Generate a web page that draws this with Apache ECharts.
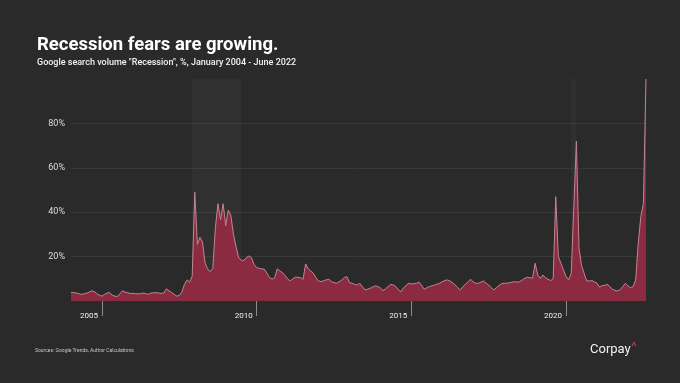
<!DOCTYPE html>
<html>
<head>
<meta charset="utf-8">
<script src="https://cdn.jsdelivr.net/npm/echarts@6/dist/echarts.min.js"></script>
<style>
html,body{margin:0;padding:0;background:#2a2a2a;}
#c{width:680px;height:383px;}
</style>
</head>
<body>
<div id="c"></div>
<script>
// Monthly categories Jan 2004 .. Aug 2022
const startYear = 2004, monthCount = 224;
const months = [];
for (let i = 0; i < monthCount; i++) {
  const y = startYear + Math.floor(i / 12), m = (i % 12) + 1;
  months.push(y + '-' + (m < 10 ? '0' + m : m));
}
// Google search volume "Recession", %
const searchVolume = [
  // 2004
  3.8,3.8,3.6,3.3,3.0,3.2,3.5,4.0,4.6,4.2,3.3,2.6,
  // 2005
  2.2,3.0,3.6,3.8,2.6,2.2,2.0,3.3,4.6,4.0,3.7,3.4,
  // 2006
  3.4,3.3,3.2,3.3,3.6,3.3,3.0,3.6,3.7,3.8,3.6,3.4,
  // 2007
  3.6,5.5,4.6,3.8,3.0,2.2,2.5,4.0,7.5,9.5,8.5,11.2,
  // 2008
  49.0,25.5,28.7,26.5,17.0,14.5,13.2,14.7,33.0,43.8,36.6,43.8,
  // 2009
  34.0,41.0,38.5,30.0,24.5,19.5,18.5,18.2,19.5,20.3,19.5,16.5,
  // 2010
  15.0,14.7,14.5,14.3,12.5,10.5,9.9,10.5,14.5,13.5,12.8,11.5,
  // 2011
  10.0,9.0,10.0,10.7,10.7,10.5,9.8,16.7,14.5,13.5,12.5,10.5,
  // 2012
  9.0,8.7,9.2,9.5,9.8,8.7,8.3,8.0,8.7,9.5,10.5,11.0,
  // 2013
  8.3,8.0,7.5,7.2,8.0,6.5,5.0,5.3,5.7,6.3,6.8,6.5,
  // 2014
  5.8,4.7,5.5,6.5,7.5,7.2,6.5,5.0,4.2,6.0,7.0,8.0,
  // 2015
  7.7,7.8,8.0,8.5,7.0,5.3,6.0,6.5,6.8,7.2,7.6,8.0,
  // 2016
  8.7,9.2,9.5,9.0,8.2,7.2,6.0,5.0,6.5,7.5,8.7,9.8,
  // 2017
  8.5,8.0,8.0,8.5,9.0,8.0,7.2,6.0,5.0,6.0,7.0,7.8,
  // 2018
  8.0,8.0,8.2,8.5,8.7,8.5,8.7,9.5,10.2,10.7,10.5,10.2,
  // 2019
  17.0,11.7,10.2,11.7,10.5,9.8,9.2,10.0,47.0,20.0,17.0,14.0,
  // 2020
  11.0,9.5,12.5,42.0,72.0,24.0,16.0,12.5,9.0,9.0,9.2,8.6,
  // 2021
  8.0,6.2,7.0,7.0,7.5,6.5,5.2,4.8,4.5,5.2,6.5,8.0,
  // 2022
  6.8,6.0,6.5,9.5,26.0,38.0,44.0,100.0
];
const recessionBands = [['2007-12', '2009-07'], ['2020-03', '2020-05']];
const yearTicks = ['2005', '2010', '2015', '2020'];
const yTicks = [20, 40, 60, 80];

const titleText = 'Recession fears are growing.';
const subtitleText = 'Google search volume "Recession", %, January 2004 - June 2022';
const sourceText = 'Sources: Google Trends, Author Calculations';

const chart = echarts.init(document.getElementById('c'), null, {renderer: 'canvas'});
const isYearTick = (idx, val) => yearTicks.indexOf(String(val).slice(0, 4)) >= 0 && String(val).slice(5) === '01';

chart.setOption({
  backgroundColor: '#2a2a2a',
  animation: false,
  grid: {left: 71, right: 34, top: 79, bottom: 82},
  xAxis: {
    type: 'category',
    data: months,
    boundaryGap: false,
    offset: 8,
    axisLine: {show: false},
    axisTick: {show: true, interval: isYearTick, length: 15, lineStyle: {color: '#8c8c8c', width: 1}},
    axisLabel: {
      interval: isYearTick,
      formatter: v => v.slice(0, 4),
      color: '#f0f0f0',
      fontFamily: 'Roboto',
      fontSize: 8,
      align: 'right',
      verticalAlign: 'middle',
      margin: 7,
      padding: [0, 4, 0, 0]
    },
    splitLine: {show: false}
  },
  yAxis: {
    type: 'value',
    min: 0,
    max: 100,
    interval: 20,
    axisLine: {show: false},
    axisTick: {show: false},
    axisLabel: {
      formatter: v => yTicks.indexOf(v) >= 0 ? v + '%' : '',
      color: '#dcdcdc',
      fontFamily: 'Roboto',
      fontSize: 9,
      margin: 6
    },
    splitLine: {lineStyle: {color: ['rgba(0,0,0,0)', '#383838', '#383838', '#383838', '#383838', 'rgba(0,0,0,0)'], width: 1}}
  },
  series: [
    {
      type: 'line',
      data: [],
      z: 1,
      silent: true,
      markArea: {
        silent: true,
        itemStyle: {color: 'rgba(255,255,255,0.03)'},
        data: recessionBands.map(b => [{xAxis: b[0]}, {xAxis: b[1]}])
      }
    },
    {
      type: 'line',
      data: searchVolume,
      z: 3,
      symbol: 'none',
      smooth: false,
      lineStyle: {
        width: 1,
        color: new echarts.graphic.LinearGradient(0, 0, 0, 1, [
          {offset: 0, color: '#f4eef0'},
          {offset: 0.6, color: '#d6aab3'},
          {offset: 1, color: '#c08593'}
        ], true)
      },
      areaStyle: {color: '#8a2b42', opacity: 1}
    }
  ],
  graphic: [
    {type: 'text', left: 37, top: 36, style: {text: titleText, fill: '#ffffff', font: 'bold 18.5px Roboto'}},
    {type: 'text', left: 37, top: 58, style: {text: subtitleText, fill: '#f2f2f2', font: '500 9px Roboto'}},
    {type: 'text', left: 35, top: 348, style: {text: sourceText, fill: '#c8c8c8', font: '5px Roboto'}},
    {type: 'text', left: 590, top: 343, style: {text: 'Corpay', fill: '#f2f2f2', font: '13px Roboto'}},
    {type: 'polyline', shape: {points: [[632, 346], [634, 342.5], [636, 346]]}, style: {stroke: '#c8324f', lineWidth: 1.2, fill: null}}
  ]
});
</script>
</body>
</html>
